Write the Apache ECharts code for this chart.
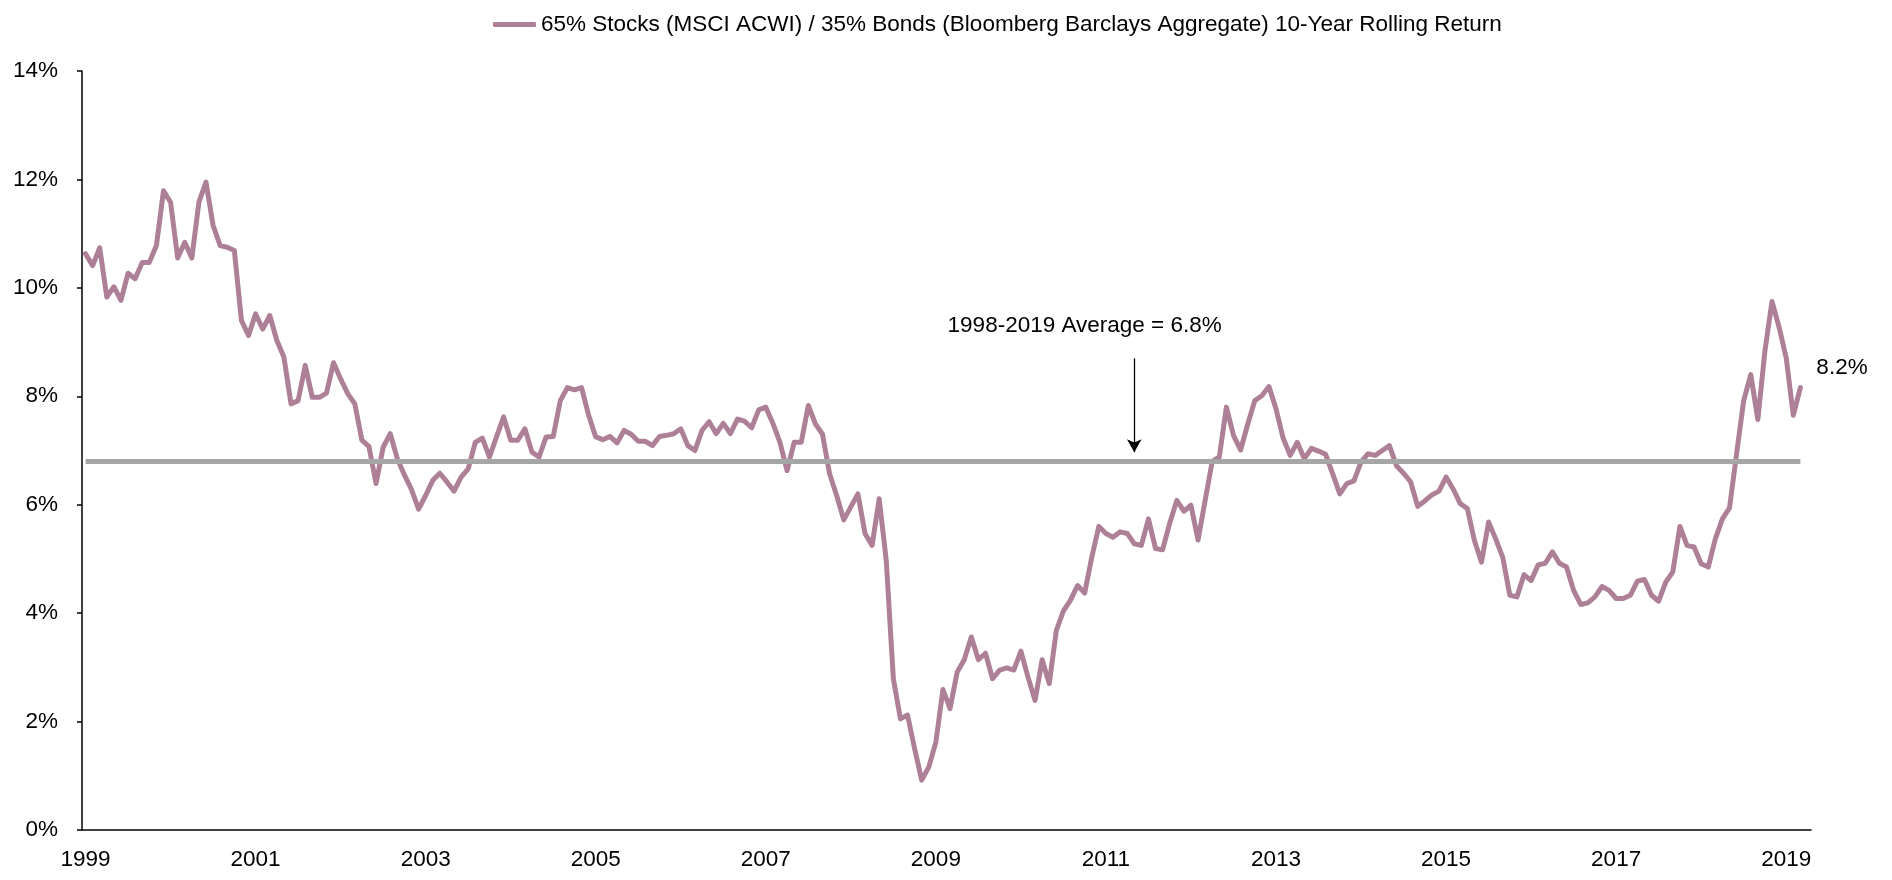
<!DOCTYPE html>
<html>
<head>
<meta charset="utf-8">
<title>10-Year Rolling Return</title>
<script src="https://cdn.jsdelivr.net/npm/echarts@6/dist/echarts.min.js"></script>
<style>
html, body { margin:0; padding:0; background:#ffffff; }
#rollingChart { width:1892px; height:880px; }
</style>
</head>
<body>
<div id="rollingChart"></div>
<script>
var seriesName = '65% Stocks (MSCI ACWI) / 35% Bonds (Bloomberg Barclays Aggregate) 10-Year Rolling Return';
var startYear = 1999;
// monthly values, 1999-01 .. 2019-03 (%)
var rollingReturn = [
	10.63,10.41,10.74,9.83,10.02,9.77,10.27,10.17,10.47,10.47,10.78,11.79,
	11.58,10.55,10.84,10.55,11.58,11.95,11.15,10.78,10.75,10.69,9.40,9.12,
	9.52,9.24,9.49,9.03,8.72,7.86,7.92,8.57,7.98,7.98,8.06,8.62,
	8.32,8.05,7.86,7.19,7.07,6.39,7.06,7.31,6.85,6.55,6.28,5.92,
	6.17,6.45,6.58,6.42,6.25,6.51,6.66,7.15,7.23,6.88,7.25,7.62,
	7.19,7.19,7.40,6.97,6.88,7.25,7.26,7.92,8.16,8.12,8.16,7.65,
	7.25,7.20,7.26,7.14,7.37,7.30,7.17,7.17,7.09,7.26,7.28,7.31,
	7.40,7.09,7.00,7.37,7.53,7.31,7.50,7.31,7.58,7.54,7.42,7.75,
	7.80,7.50,7.15,6.63,7.15,7.15,7.83,7.49,7.30,6.57,6.17,5.72,
	5.96,6.20,5.47,5.25,6.11,4.97,2.79,2.05,2.12,1.50,0.92,1.16,
	1.62,2.59,2.24,2.91,3.14,3.56,3.14,3.26,2.79,2.95,2.99,2.95,
	3.30,2.82,2.39,3.14,2.70,3.68,4.04,4.24,4.51,4.37,5.03,5.60,
	5.47,5.40,5.50,5.47,5.28,5.25,5.74,5.19,5.17,5.66,6.08,5.88,
	5.99,5.35,6.08,6.80,6.88,7.80,7.28,7.01,7.48,7.92,8.01,8.18,
	7.77,7.23,6.91,7.15,6.85,7.04,6.99,6.93,6.57,6.20,6.39,6.44,
	6.79,6.94,6.91,7.00,7.09,6.72,6.58,6.42,5.97,6.07,6.18,6.25,
	6.51,6.29,6.02,5.93,5.34,4.94,5.68,5.37,5.03,4.33,4.30,4.71,
	4.60,4.89,4.92,5.13,4.92,4.85,4.42,4.16,4.19,4.30,4.49,4.42,
	4.27,4.27,4.33,4.59,4.62,4.33,4.22,4.57,4.76,5.60,5.25,5.22,
	4.91,4.85,5.37,5.74,5.94,6.94,7.92,8.40,7.57,8.84,9.75,9.27,
	8.71,7.65,8.16
];
var yearLabels = ['1999','2001','2003','2005','2007','2009','2011','2013','2015','2017','2019'];
var averageValue = 6.8;
var averageText = '1998-2019 Average = 6.8%';
var arrowMonth = '2011-05';
var arrowFrom = 8.7;
var arrowTo = 6.97;
var textMonth = '2010-10';
var textValue = 9.3;

// 月份类目 (axis runs one month past the last value)
var months = [];
for (var i = 0; i < rollingReturn.length + 1; i++) {
	var y = startYear + Math.floor(i / 12);
	var m = i % 12 + 1;
	months.push(y + '-' + (m < 10 ? '0' + m : m));
}

function isYearTick(index, value) {
	return value.slice(5) === '01' && yearLabels.indexOf(value.slice(0, 4)) >= 0;
}

var fontFamily = "'Liberation Sans', Arial, sans-serif";
var fontSize = 22.5;
var lineColor = '#AD8097';

var charts = echarts.init(document.getElementById('rollingChart'));
var option = {
	animation: false,
	backgroundColor: '#ffffff',
	textStyle: { fontFamily: fontFamily, color: '#000' },
	legend: {
		data: [seriesName],
		left: 488,
		top: 8,
		icon: 'roundRect',
		itemWidth: 43,
		itemHeight: 5,
		textStyle: { fontFamily: fontFamily, fontSize: fontSize, color: '#000' }
	},
	grid: {
		left: 82,
		right: 81,
		top: 71,
		bottom: 50
	},
	xAxis: {
		type: 'category',
		data: months,
		boundaryGap: true,
		axisLine: { lineStyle: { color: '#000', width: 1.5 } },
		axisTick: { interval: isYearTick, length: 8, lineStyle: { color: '#000', width: 1.5 } },
		axisLabel: {
			interval: isYearTick,
			margin: 18,
			fontSize: fontSize,
			fontFamily: fontFamily,
			color: '#000',
			formatter: function (value) { return value.slice(0, 4); }
		},
		splitLine: { show: false }
	},
	yAxis: {
		type: 'value',
		min: 0,
		max: 14,
		interval: 2,
		axisLine: { show: true, lineStyle: { color: '#000', width: 1.5 } },
		axisTick: { show: true, length: 5, lineStyle: { color: '#000', width: 1.5 } },
		axisLabel: {
			margin: 24,
			fontSize: fontSize,
			fontFamily: fontFamily,
			color: '#000',
			formatter: '{value}%'
		},
		splitLine: { show: false }
	},
	series: [{
		name: seriesName,
		type: 'line',
		data: rollingReturn,
		showSymbol: false,
		symbol: 'none',
		color: lineColor,
		lineStyle: { color: lineColor, width: 5, join: 'round', cap: 'round' },
		endLabel: {
			show: true,
			offset: [8, -20],
			fontSize: fontSize,
			fontFamily: fontFamily,
			color: '#000',
			formatter: function (p) { return p.value.toFixed(1) + '%'; }
		},
		markLine: {
			silent: true,
			symbol: ['none', 'none'],
			label: { show: false },
			data: [
				[
					{ coord: [months[0], averageValue], lineStyle: { color: '#A6A6A6', width: 5, type: 'solid' } },
					{ coord: [months[rollingReturn.length - 1], averageValue] }
				],
				[
					{ coord: [arrowMonth, arrowFrom], symbol: 'none', lineStyle: { color: '#000', width: 1.3, type: 'solid' } },
					{ coord: [arrowMonth, arrowTo], symbol: 'arrow', symbolSize: [11, 13] }
				]
			]
		},
		markPoint: {
			silent: true,
			symbolSize: 0,
			data: [{
				coord: [textMonth, textValue],
				itemStyle: { color: 'transparent' },
				label: {
					show: true,
					position: 'inside',
					fontSize: fontSize,
					fontFamily: fontFamily,
					color: '#000',
					formatter: averageText
				}
			}]
		}
	}]
};
charts.setOption(option);
</script>
</body>
</html>
